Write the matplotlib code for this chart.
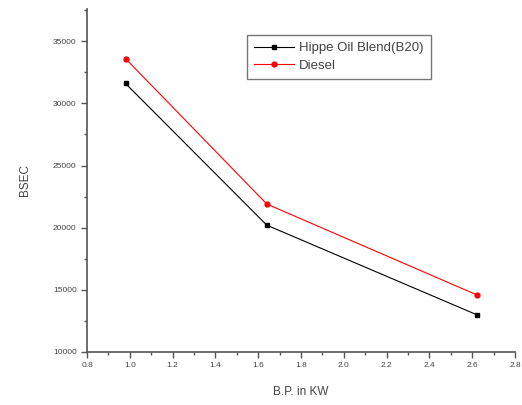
import matplotlib
matplotlib.use("Agg")
import matplotlib.pyplot as plt
from matplotlib.ticker import MultipleLocator, FormatStrFormatter

plt.rcParams['font.family'] = ['Liberation Sans', 'DejaVu Sans']

bp = [0.98, 1.64, 2.62]
b20 = [31600, 20200, 13000]
diesel = [33600, 21900, 14600]

fig = plt.figure(figsize=(5.22, 4.05), dpi=100)
ax = fig.add_axes([0.1667, 0.131, 0.82, 0.847])

ax.plot(bp, b20, color='black', marker='s', markersize=3.5, linewidth=0.8,
        label='Hippe Oil Blend(B20)')
ax.plot(bp, diesel, color='red', marker='o', markersize=3.5, linewidth=0.8,
        label='Diesel')

ax.set_xlim(0.8, 2.8)
ax.set_ylim(10000, 37600)
ax.xaxis.set_major_locator(MultipleLocator(0.2))
ax.xaxis.set_minor_locator(MultipleLocator(0.1))
ax.yaxis.set_major_locator(MultipleLocator(5000))
ax.yaxis.set_minor_locator(MultipleLocator(2500))
ax.xaxis.set_major_formatter(FormatStrFormatter('%.1f'))

for s in ['top', 'right']:
    ax.spines[s].set_visible(False)
for s in ['left', 'bottom']:
    ax.spines[s].set_color('#555555')
    ax.spines[s].set_linewidth(1.2)

ax.tick_params(axis='both', which='major', direction='out', length=4,
               width=1, labelsize=6, colors='#555555', labelcolor='#444444')
ax.tick_params(axis='both', which='minor', direction='out', length=2,
               width=1, colors='#555555')

ax.set_xlabel('B.P. in KW', fontsize=8.5, color='#444444', labelpad=12)
ax.set_ylabel('BSEC', fontsize=8.5, color='#444444', labelpad=16)

leg = ax.legend(loc='upper left', bbox_to_anchor=(0.374, 0.924),
                borderaxespad=0, fontsize=9.5,
                frameon=True, fancybox=False, edgecolor='#555555',
                handlelength=3.0, borderpad=0.55, labelspacing=0.4,
                handletextpad=0.4)
leg.get_frame().set_linewidth(1.0)
for t in leg.get_texts():
    t.set_color('#444444')

fig.savefig('out.png', dpi=100)
